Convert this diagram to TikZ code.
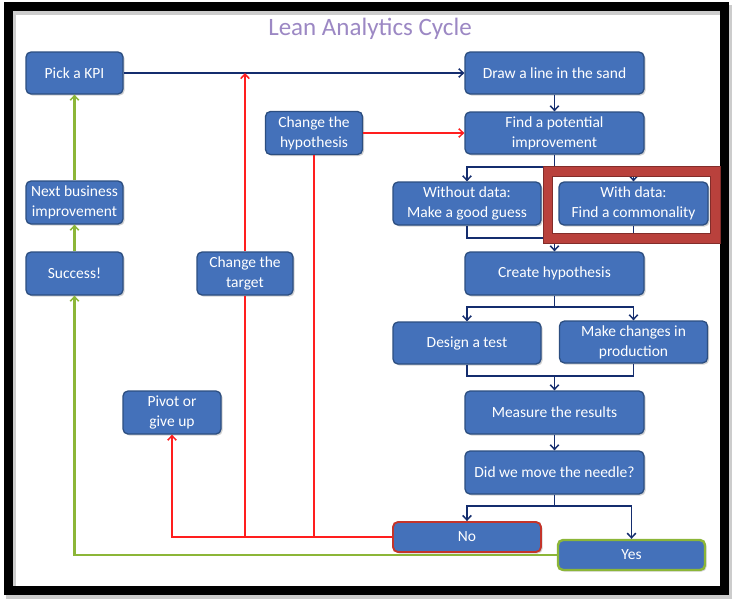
\documentclass[tikz,border=0pt]{standalone}
\usepackage{fontspec}
\setmainfont{Carlito}
\usetikzlibrary{arrows.meta,shadows}
\definecolor{nodefill}{RGB}{68,113,186}
\definecolor{nodeborder}{RGB}{44,78,128}
\definecolor{navy}{RGB}{20,45,110}
\definecolor{redline}{RGB}{255,30,30}
\definecolor{greenline}{RGB}{140,182,56}
\definecolor{noborder}{RGB}{196,52,42}
\definecolor{hilite}{RGB}{185,65,60}
\definecolor{titlecol}{RGB}{156,136,196}
\tikzset{
  box/.style={draw=nodeborder, line width=1.3pt, fill=nodefill, rounded corners=5pt,
    text=white, align=center, inner sep=0pt, font=\fontsize{15.5}{20}\selectfont,
    drop shadow={shadow xshift=1.6pt, shadow yshift=-1.6pt, opacity=0.35}},
  tip/.style={-{Straight Barb[length=4.5pt,width=8.5pt,line width=1.5pt]}},
  navl/.style={draw=navy, line width=1.7pt},
  nav/.style={navl, tip},
  redl/.style={draw=redline, line width=1.6pt},
  reda/.style={redl, tip},
  grnl/.style={draw=greenline, line width=2.3pt},
  grna/.style={grnl, tip}
}
\begin{document}
\begin{tikzpicture}[x=1pt,y=-1pt]
\useasboundingbox (0,0) rectangle (732,600);
\fill[white] (0,0) rectangle (732,600);
% frame
\draw[line width=10pt, black!20] (10.5,9.5) rectangle (726.5,593.5);
\draw[line width=9pt, black] (8.3,6.7) rectangle (724.5,590);
\node[font=\fontsize{25}{28}\selectfont, text=titlecol] (title) at (370,29) {Lean Analytics Cycle};

% nodes
\node[box, minimum width=97pt, minimum height=42pt] (kpi) at (74.5,73) {Pick a KPI};
\node[box, minimum width=179pt, minimum height=42pt] (draw) at (554.5,73) {Draw a line in the sand};
\node[box, minimum width=179pt, minimum height=42pt] (find) at (554.5,133) {Find a potential\\improvement};
\node[box, minimum width=97pt, minimum height=43pt] (chyp) at (314,133) {Change the\\hypothesis};
\node[box, minimum width=97pt, minimum height=43pt] (next) at (74.5,202.5) {Next business\\improvement};
\node[box, minimum width=97pt, minimum height=43pt] (succ) at (74.5,273.5) {Success!};
\node[box, minimum width=96pt, minimum height=43pt] (ctgt) at (245,273.5) {Change the\\target};
\node[box, minimum width=148pt, minimum height=43pt] (without) at (467,203.5) {Without data:\\Make a good guess};
\node[box, minimum width=149pt, minimum height=43pt] (with) at (633.5,203.5) {With data:\\Find a commonality};
\node[box, minimum width=179pt, minimum height=43pt] (create) at (554.5,273.5) {Create hypothesis};
\node[box, minimum width=148pt, minimum height=42pt] (design) at (467,343) {Design a test};
\node[box, minimum width=148pt, minimum height=42pt] (make) at (633.5,342) {Make changes in\\production};
\node[box, minimum width=179pt, minimum height=43pt] (measure) at (554.5,412.5) {Measure the results};
\node[box, minimum width=179pt, minimum height=43pt] (did) at (554.5,472.5) {Did we move the needle?};
\node[box, draw=noborder, line width=1.9pt, minimum width=148pt, minimum height=30pt] (no) at (467,537) {No};
\node[box, draw=greenline, line width=2.4pt, minimum width=147pt, minimum height=30pt] (yes) at (631.5,555) {Yes};
\node[box, minimum width=98pt, minimum height=43pt] (pivot) at (172,412.5) {Pivot or\\give up};

% junction coordinates
\coordinate (fj) at (554.5,167);
\coordinate (wj) at (554.5,238);
\coordinate (cj) at (554.5,307);
\coordinate (dj) at (554.5,376);
\coordinate (nj) at (554.5,506);

% navy connectors
\draw[nav] (kpi.east) -- (kpi.east -| draw.west);
\draw[nav] (draw.south) -- (find.north);
\draw[navl] (find.south) -- (fj);
\draw[nav] (fj) -| (without.north);
\draw[nav] (fj) -| (with.north);
\draw[navl] (without.south) |- (wj);
\draw[navl] (with.south) |- (wj);
\draw[nav] (wj) -- (create.north);
\draw[navl] (create.south) -- (cj);
\draw[nav] (cj) -| (design.north);
\draw[nav] (cj) -| (make.north);
\draw[navl] (design.south) |- (dj);
\draw[navl] (make.south) |- (dj);
\draw[nav] (dj) -- (measure.north);
\draw[nav] (measure.south) -- (did.north);
\draw[navl] (did.south) -- (nj);
\draw[nav] (nj) -| (no.north);
\draw[nav] (nj) -| (yes.north);

% red connectors
\draw[reda] (ctgt.north) -- (ctgt.north |- kpi.east);
\draw[reda] (chyp.east) -- (chyp.east -| find.west);
\draw[reda] (no.west) -| (pivot.south);
\draw[redl] (ctgt.south) -- (ctgt.south |- no.west);
\draw[redl] (no.west -| chyp.south) -- (chyp.south);

% green connectors
\draw[grna] (yes.west) -| (succ.south);
\draw[grna] (succ.north) -- (next.south);
\draw[grna] (next.north) -- (kpi.south);

% highlight box
\draw[line width=9.6pt, hilite] (547.7,171.3) rectangle (715,238);
\draw[line width=0.5pt, hilite!70!black] (542.9,166.5) rectangle (719.8,242.8);
\draw[line width=0.5pt, hilite!70!black] (552.5,176.1) rectangle (710.2,233.2);
\end{tikzpicture}
\end{document}
